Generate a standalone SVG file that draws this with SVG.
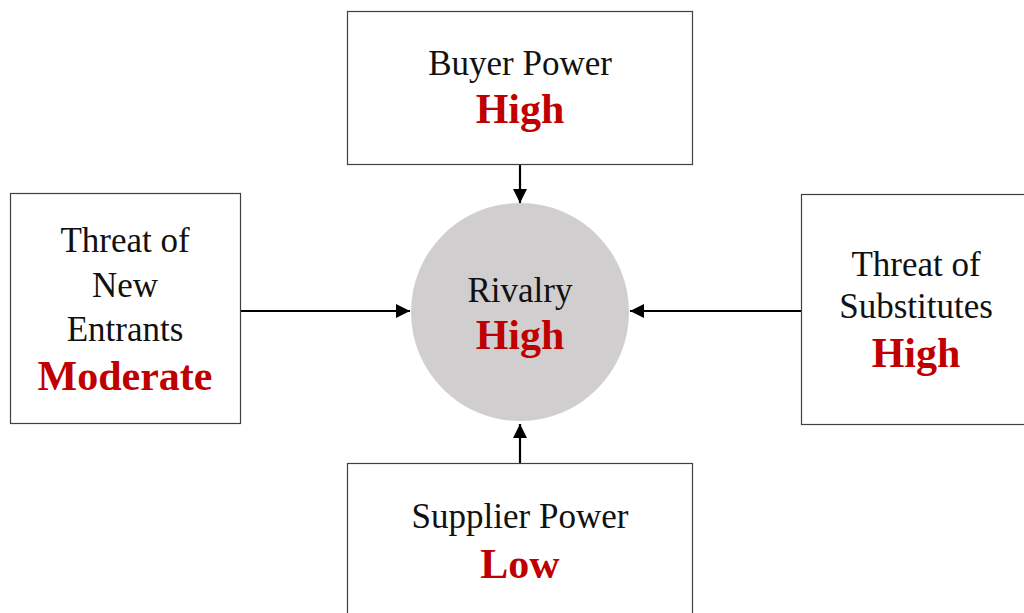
<svg xmlns="http://www.w3.org/2000/svg" width="1024" height="613" viewBox="0 0 1024 613">
<style>
.box{fill:#fff;stroke:#404040;stroke-width:1.2}
text{font-family:'Liberation Serif','Times New Roman','DejaVu Serif',serif;text-anchor:middle}
.lbl{font-size:35px;fill:#111}
.val{font-size:42px;font-weight:bold;fill:#C00000}
.conn{stroke:#000;stroke-width:2.2;fill:none}
</style>
<defs>
<marker id="ah" viewBox="0 0 10 10" refX="10" refY="5" markerWidth="14" markerHeight="14" markerUnits="userSpaceOnUse" orient="auto">
<path d="M0,0 L10,5 L0,10 z" fill="#000"/>
</marker>
</defs>
<rect width="1024" height="613" fill="#fff"/>
<g id="connectors">
<line class="conn" x1="520" y1="164" x2="520" y2="203" marker-end="url(#ah)"/>
<line class="conn" x1="240" y1="311" x2="410" y2="311" marker-end="url(#ah)"/>
<line class="conn" x1="801" y1="311" x2="630" y2="311" marker-end="url(#ah)"/>
<line class="conn" x1="520" y1="463" x2="520" y2="424" marker-end="url(#ah)"/>
</g>
<g id="buyer">
<rect class="box" x="347.5" y="11.5" width="345" height="153"/>
<text class="lbl" x="520" y="75">Buyer Power</text>
<text class="val" x="520" y="123">High</text>
</g>
<g id="entrants">
<rect class="box" x="10.5" y="193.5" width="230" height="230"/>
<text class="lbl" x="125" y="252">Threat of</text>
<text class="lbl" x="125" y="297">New</text>
<text class="lbl" x="125" y="341">Entrants</text>
<text class="val" x="125" y="390">Moderate</text>
</g>
<g id="rivalry">
<circle cx="520" cy="312" r="109" fill="#D0CECE"/>
<text class="lbl" x="520" y="302">Rivalry</text>
<text class="val" x="520" y="349">High</text>
</g>
<g id="substitutes">
<rect class="box" x="801.5" y="194.5" width="240" height="230"/>
<text class="lbl" x="916" y="276">Threat of</text>
<text class="lbl" x="916" y="318">Substitutes</text>
<text class="val" x="916" y="367">High</text>
</g>
<g id="supplier">
<rect class="box" x="347.5" y="463.5" width="345" height="170"/>
<text class="lbl" x="520" y="528">Supplier Power</text>
<text class="val" x="520" y="578">Low</text>
</g>
</svg>
